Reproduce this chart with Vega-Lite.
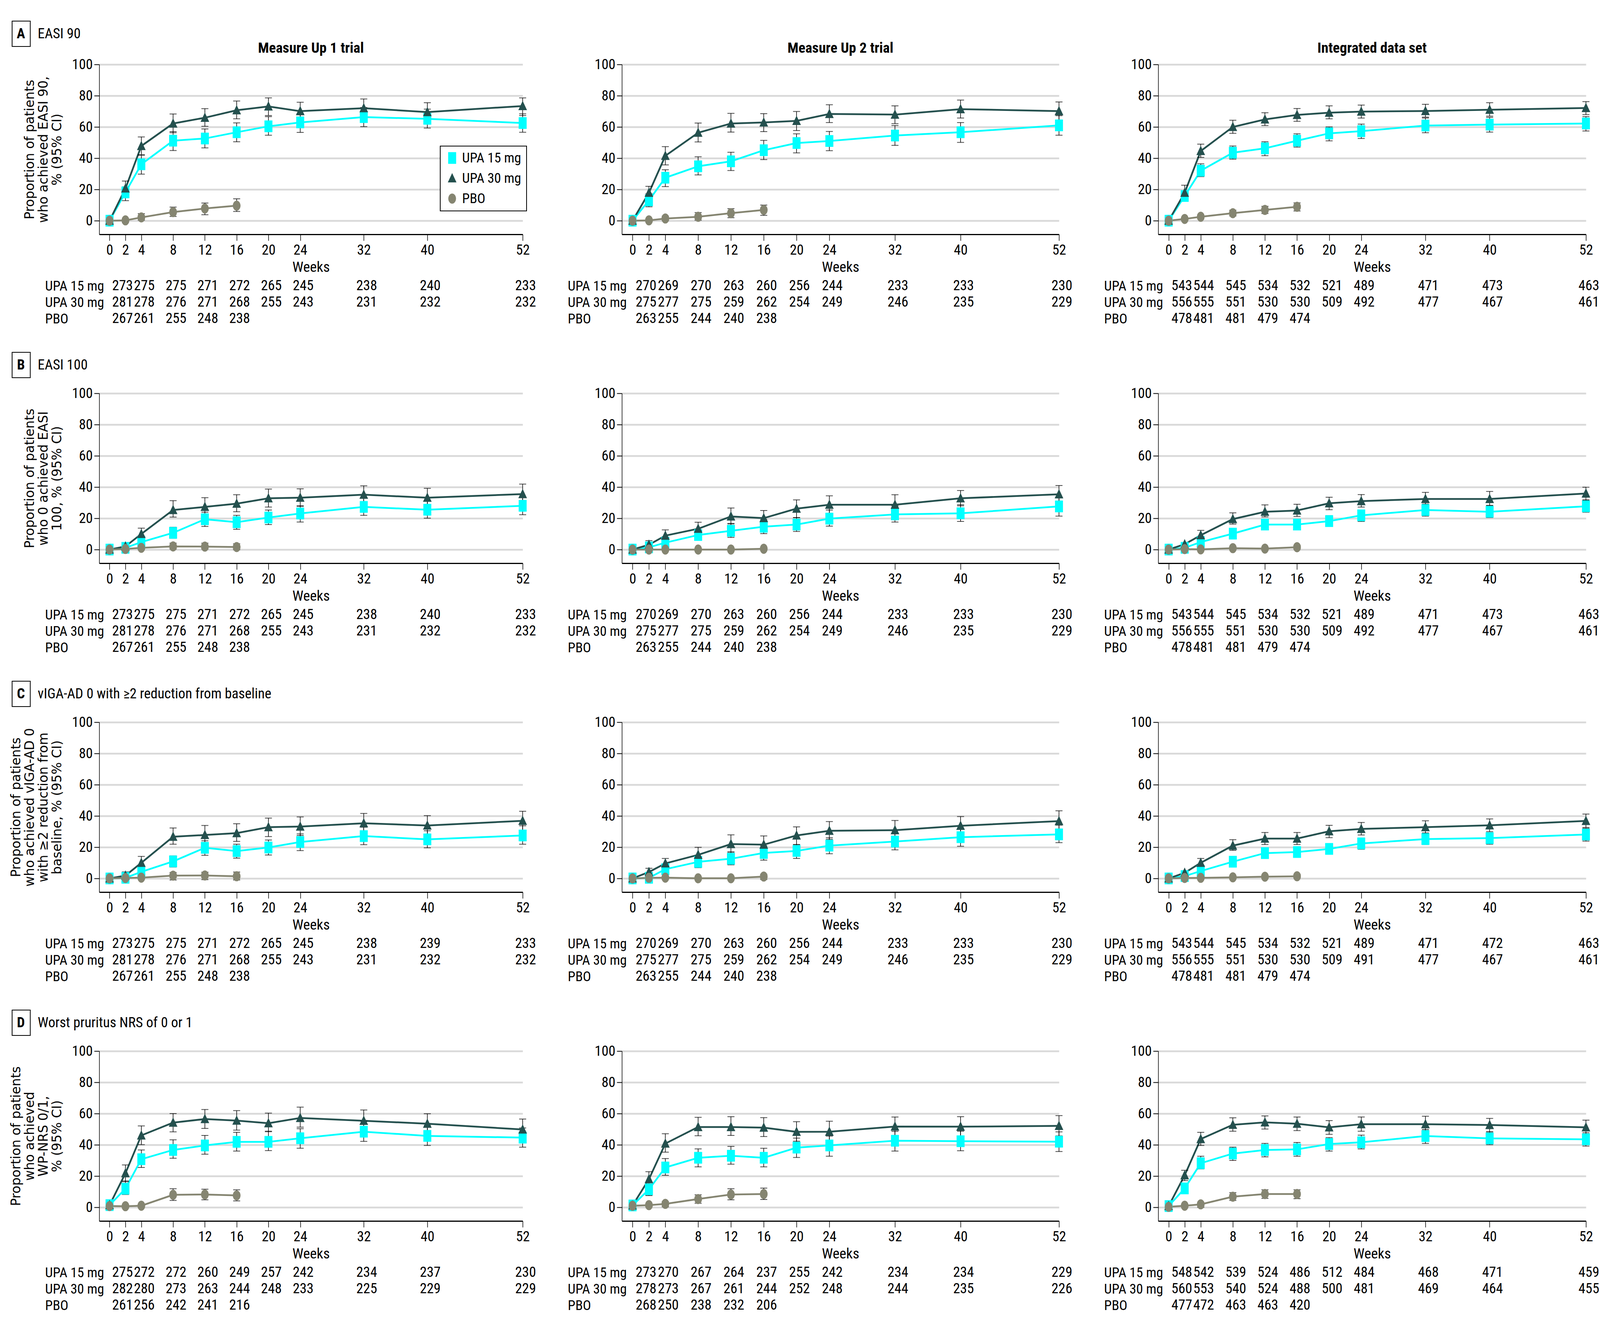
{
"$schema":"https://vega.github.io/schema/vega-lite/v6.json",
"background":"white",
"padding":{"left":25,"top":50,"right":0,"bottom":0},
"spacing":61,
"resolve":{"legend":{"color":"independent","shape":"independent"},"scale":{"color":"independent","shape":"independent"}},
"datasets":{
"A1":[
{"week":0,"group":"UPA 15 mg","pct":0},{"week":2,"group":"UPA 15 mg","pct":18.1,"lo":12.8,"hi":21.6},{"week":4,"group":"UPA 15 mg","pct":36.1,"lo":29.8,"hi":41.9},{"week":8,"group":"UPA 15 mg","pct":51.2,"lo":44.9,"hi":57.0},{"week":12,"group":"UPA 15 mg","pct":52.6,"lo":46.6,"hi":58.7},{"week":16,"group":"UPA 15 mg","pct":56.6,"lo":50.5,"hi":62.6},{"week":20,"group":"UPA 15 mg","pct":60.4,"lo":54.7,"hi":66.6},{"week":24,"group":"UPA 15 mg","pct":62.9,"lo":56.5,"hi":68.7},{"week":32,"group":"UPA 15 mg","pct":66.3,"lo":60.2,"hi":72.4},{"week":40,"group":"UPA 15 mg","pct":65.2,"lo":59.3,"hi":71.4},{"week":52,"group":"UPA 15 mg","pct":62.5,"lo":56.6,"hi":68.4},
{"week":0,"group":"UPA 30 mg","pct":0},{"week":2,"group":"UPA 30 mg","pct":20.6,"lo":16.1,"hi":25.4},{"week":4,"group":"UPA 30 mg","pct":47.8,"lo":42.2,"hi":53.6},{"week":8,"group":"UPA 30 mg","pct":62.2,"lo":56.3,"hi":68.3},{"week":12,"group":"UPA 30 mg","pct":65.9,"lo":60.4,"hi":71.7},{"week":16,"group":"UPA 30 mg","pct":70.7,"lo":65.2,"hi":76.6},{"week":20,"group":"UPA 30 mg","pct":73.1,"lo":67.3,"hi":78.6},{"week":24,"group":"UPA 30 mg","pct":70.1,"lo":64.6,"hi":75.8},{"week":32,"group":"UPA 30 mg","pct":72.0,"lo":66.3,"hi":77.9},{"week":40,"group":"UPA 30 mg","pct":69.5,"lo":63.9,"hi":75.5},{"week":52,"group":"UPA 30 mg","pct":73.4,"lo":67.3,"hi":78.6},
{"week":0,"group":"PBO","pct":0},{"week":2,"group":"PBO","pct":0.2,"lo":-1.2,"hi":1.4},{"week":4,"group":"PBO","pct":2.1,"lo":0.3,"hi":4.5},{"week":8,"group":"PBO","pct":5.5,"lo":2.7,"hi":8.7},{"week":12,"group":"PBO","pct":7.8,"lo":3.8,"hi":11.3},{"week":16,"group":"PBO","pct":9.6,"lo":5.9,"hi":14.0}],
"A2":[
{"week":0,"group":"UPA 15 mg","pct":0},{"week":2,"group":"UPA 15 mg","pct":13.0,"lo":8.9,"hi":17.2},{"week":4,"group":"UPA 15 mg","pct":27.5,"lo":21.8,"hi":32.6},{"week":8,"group":"UPA 15 mg","pct":34.8,"lo":29.3,"hi":40.9},{"week":12,"group":"UPA 15 mg","pct":38.0,"lo":32.1,"hi":43.8},{"week":16,"group":"UPA 15 mg","pct":45.1,"lo":39.1,"hi":51.4},{"week":20,"group":"UPA 15 mg","pct":49.7,"lo":43.4,"hi":55.6},{"week":24,"group":"UPA 15 mg","pct":51.0,"lo":44.8,"hi":57.1},{"week":32,"group":"UPA 15 mg","pct":54.5,"lo":48.2,"hi":60.9},{"week":40,"group":"UPA 15 mg","pct":56.6,"lo":50.1,"hi":62.8},{"week":52,"group":"UPA 15 mg","pct":61.0,"lo":54.7,"hi":67.2},
{"week":0,"group":"UPA 30 mg","pct":0},{"week":2,"group":"UPA 30 mg","pct":17.9,"lo":13.0,"hi":22.0},{"week":4,"group":"UPA 30 mg","pct":41.5,"lo":35.7,"hi":47.4},{"week":8,"group":"UPA 30 mg","pct":56.3,"lo":50.4,"hi":62.5},{"week":12,"group":"UPA 30 mg","pct":62.2,"lo":56.7,"hi":68.7},{"week":16,"group":"UPA 30 mg","pct":62.9,"lo":57.0,"hi":68.5},{"week":20,"group":"UPA 30 mg","pct":63.9,"lo":57.7,"hi":69.9},{"week":24,"group":"UPA 30 mg","pct":68.3,"lo":62.8,"hi":74.2},{"week":32,"group":"UPA 30 mg","pct":67.9,"lo":62.1,"hi":73.5},{"week":40,"group":"UPA 30 mg","pct":71.4,"lo":65.7,"hi":77.2},{"week":52,"group":"UPA 30 mg","pct":70.1,"lo":64.1,"hi":76.0},
{"week":0,"group":"PBO","pct":0},{"week":2,"group":"PBO","pct":0.2,"lo":-0.8,"hi":1.2},{"week":4,"group":"PBO","pct":1.4,"lo":0,"hi":2.9},{"week":8,"group":"PBO","pct":2.5,"lo":0.3,"hi":5.2},{"week":12,"group":"PBO","pct":4.8,"lo":1.9,"hi":7.7},{"week":16,"group":"PBO","pct":6.9,"lo":3.4,"hi":10.0}],
"A3":[
{"week":0,"group":"UPA 15 mg","pct":0},{"week":2,"group":"UPA 15 mg","pct":15.8,"lo":12.6,"hi":18.8},{"week":4,"group":"UPA 15 mg","pct":32.0,"lo":28.2,"hi":36.4},{"week":8,"group":"UPA 15 mg","pct":43.5,"lo":39.4,"hi":47.8},{"week":12,"group":"UPA 15 mg","pct":46.3,"lo":41.6,"hi":50.5},{"week":16,"group":"UPA 15 mg","pct":51.2,"lo":47.1,"hi":55.6},{"week":20,"group":"UPA 15 mg","pct":55.9,"lo":51.1,"hi":60.0},{"week":24,"group":"UPA 15 mg","pct":57.3,"lo":52.6,"hi":61.8},{"week":32,"group":"UPA 15 mg","pct":60.9,"lo":56.3,"hi":65.7},{"week":40,"group":"UPA 15 mg","pct":61.5,"lo":56.7,"hi":66.1},{"week":52,"group":"UPA 15 mg","pct":62.2,"lo":57.4,"hi":66.6},
{"week":0,"group":"UPA 30 mg","pct":0},{"week":2,"group":"UPA 30 mg","pct":17.9,"lo":13.7,"hi":22.7},{"week":4,"group":"UPA 30 mg","pct":44.6,"lo":40.5,"hi":49.0},{"week":8,"group":"UPA 30 mg","pct":60.0,"lo":55.9,"hi":64.3},{"week":12,"group":"UPA 30 mg","pct":64.8,"lo":60.9,"hi":69.1},{"week":16,"group":"UPA 30 mg","pct":67.7,"lo":63.6,"hi":71.8},{"week":20,"group":"UPA 30 mg","pct":69.1,"lo":65.2,"hi":73.5},{"week":24,"group":"UPA 30 mg","pct":69.8,"lo":65.7,"hi":74.0},{"week":32,"group":"UPA 30 mg","pct":70.2,"lo":66.3,"hi":74.5},{"week":40,"group":"UPA 30 mg","pct":71.0,"lo":66.9,"hi":75.5},{"week":52,"group":"UPA 30 mg","pct":72.1,"lo":67.9,"hi":76.2},
{"week":0,"group":"PBO","pct":0},{"week":2,"group":"PBO","pct":1.1,"lo":0.2,"hi":2.0},{"week":4,"group":"PBO","pct":2.5,"lo":1.2,"hi":3.8},{"week":8,"group":"PBO","pct":4.8,"lo":3.0,"hi":6.7},{"week":12,"group":"PBO","pct":6.9,"lo":4.6,"hi":9.2},{"week":16,"group":"PBO","pct":8.9,"lo":6.2,"hi":11.4}],
"B1":[
{"week":0,"group":"UPA 15 mg","pct":0},{"week":2,"group":"UPA 15 mg","pct":1.1,"lo":0,"hi":2.5},{"week":4,"group":"UPA 15 mg","pct":4.8,"lo":2.7,"hi":6.8},{"week":8,"group":"UPA 15 mg","pct":10.7,"lo":7.2,"hi":14.3},{"week":12,"group":"UPA 15 mg","pct":19.4,"lo":14.8,"hi":23.9},{"week":16,"group":"UPA 15 mg","pct":17.5,"lo":13.0,"hi":21.9},{"week":20,"group":"UPA 15 mg","pct":20.5,"lo":16.0,"hi":25.3},{"week":24,"group":"UPA 15 mg","pct":23.1,"lo":17.6,"hi":28.0},{"week":32,"group":"UPA 15 mg","pct":27.3,"lo":21.9,"hi":32.8},{"week":40,"group":"UPA 15 mg","pct":25.5,"lo":20.1,"hi":31.0},{"week":52,"group":"UPA 15 mg","pct":28.0,"lo":22.3,"hi":33.5},
{"week":0,"group":"UPA 30 mg","pct":0},{"week":2,"group":"UPA 30 mg","pct":2.0,"lo":0.7,"hi":4.1},{"week":4,"group":"UPA 30 mg","pct":10.0,"lo":5.9,"hi":13.7},{"week":8,"group":"UPA 30 mg","pct":25.3,"lo":20.8,"hi":31.3},{"week":12,"group":"UPA 30 mg","pct":27.3,"lo":21.9,"hi":33.2},{"week":16,"group":"UPA 30 mg","pct":29.4,"lo":24.2,"hi":35.1},{"week":20,"group":"UPA 30 mg","pct":32.8,"lo":27.2,"hi":38.7},{"week":24,"group":"UPA 30 mg","pct":33.2,"lo":27.7,"hi":38.9},{"week":32,"group":"UPA 30 mg","pct":35.1,"lo":29.4,"hi":40.8},{"week":40,"group":"UPA 30 mg","pct":33.2,"lo":27.3,"hi":39.2},{"week":52,"group":"UPA 30 mg","pct":35.5,"lo":29.6,"hi":41.9},
{"week":0,"group":"PBO","pct":0},{"week":2,"group":"PBO","pct":0.4},{"week":4,"group":"PBO","pct":1.1,"lo":0,"hi":2.5},{"week":8,"group":"PBO","pct":2.0,"lo":0.3,"hi":4.1},{"week":12,"group":"PBO","pct":1.9,"lo":0.3,"hi":4.1},{"week":16,"group":"PBO","pct":1.6,"lo":-0.1,"hi":3.7}],
"B2":[
{"week":0,"group":"UPA 15 mg","pct":0},{"week":2,"group":"UPA 15 mg","pct":1.4,"lo":0.5,"hi":2.3},{"week":4,"group":"UPA 15 mg","pct":4.4,"lo":1.6,"hi":5.9},{"week":8,"group":"UPA 15 mg","pct":9.3,"lo":6.1,"hi":12.7},{"week":12,"group":"UPA 15 mg","pct":12.0,"lo":7.8,"hi":16.7},{"week":16,"group":"UPA 15 mg","pct":14.6,"lo":10.2,"hi":19.1},{"week":20,"group":"UPA 15 mg","pct":16.0,"lo":11.6,"hi":20.5},{"week":24,"group":"UPA 15 mg","pct":19.8,"lo":15.0,"hi":25.3},{"week":32,"group":"UPA 15 mg","pct":22.5,"lo":17.6,"hi":28.0},{"week":40,"group":"UPA 15 mg","pct":23.2,"lo":18.0,"hi":28.7},{"week":52,"group":"UPA 15 mg","pct":27.6,"lo":21.4,"hi":33.2},
{"week":0,"group":"UPA 30 mg","pct":0},{"week":2,"group":"UPA 30 mg","pct":3.1,"lo":1.0,"hi":5.7},{"week":4,"group":"UPA 30 mg","pct":8.9,"lo":5.1,"hi":12.6},{"week":8,"group":"UPA 30 mg","pct":13.3,"lo":9.2,"hi":17.5},{"week":12,"group":"UPA 30 mg","pct":21.2,"lo":16.4,"hi":26.6},{"week":16,"group":"UPA 30 mg","pct":20.1,"lo":15.2,"hi":25.0},{"week":20,"group":"UPA 30 mg","pct":26.2,"lo":20.4,"hi":31.8},{"week":24,"group":"UPA 30 mg","pct":28.7,"lo":23.2,"hi":34.4},{"week":32,"group":"UPA 30 mg","pct":28.7,"lo":23.9,"hi":35.1},{"week":40,"group":"UPA 30 mg","pct":32.8,"lo":28.0,"hi":37.8},{"week":52,"group":"UPA 30 mg","pct":35.4,"lo":29.4,"hi":41.0},
{"week":0,"group":"PBO","pct":0},{"week":2,"group":"PBO","pct":0},{"week":4,"group":"PBO","pct":0},{"week":8,"group":"PBO","pct":0},{"week":12,"group":"PBO","pct":0},{"week":16,"group":"PBO","pct":0.5}],
"B3":[
{"week":0,"group":"UPA 15 mg","pct":0},{"week":2,"group":"UPA 15 mg","pct":1.1,"lo":0.2,"hi":2.0},{"week":4,"group":"UPA 15 mg","pct":4.8,"lo":2.7,"hi":6.4},{"week":8,"group":"UPA 15 mg","pct":10.2,"lo":7.5,"hi":12.7},{"week":12,"group":"UPA 15 mg","pct":16.0,"lo":12.7,"hi":19.0},{"week":16,"group":"UPA 15 mg","pct":16.0,"lo":13.0,"hi":19.4},{"week":20,"group":"UPA 15 mg","pct":18.2,"lo":15.0,"hi":21.7},{"week":24,"group":"UPA 15 mg","pct":21.9,"lo":18.0,"hi":25.0},{"week":32,"group":"UPA 15 mg","pct":25.3,"lo":21.4,"hi":29.1},{"week":40,"group":"UPA 15 mg","pct":24.2,"lo":20.5,"hi":28.0},{"week":52,"group":"UPA 15 mg","pct":27.7,"lo":23.9,"hi":31.7},
{"week":0,"group":"UPA 30 mg","pct":0},{"week":2,"group":"UPA 30 mg","pct":3.4,"lo":2.0,"hi":4.5},{"week":4,"group":"UPA 30 mg","pct":9.2,"lo":6.1,"hi":12.3},{"week":8,"group":"UPA 30 mg","pct":19.5,"lo":16.3,"hi":23.5},{"week":12,"group":"UPA 30 mg","pct":24.2,"lo":20.9,"hi":28.6},{"week":16,"group":"UPA 30 mg","pct":25.0,"lo":21.2,"hi":29.0},{"week":20,"group":"UPA 30 mg","pct":29.6,"lo":25.5,"hi":33.5},{"week":24,"group":"UPA 30 mg","pct":31.0,"lo":27.2,"hi":35.2},{"week":32,"group":"UPA 30 mg","pct":32.4,"lo":28.3,"hi":36.6},{"week":40,"group":"UPA 30 mg","pct":32.4,"lo":28.3,"hi":37.2},{"week":52,"group":"UPA 30 mg","pct":35.9,"lo":31.7,"hi":39.9},
{"week":0,"group":"PBO","pct":0},{"week":2,"group":"PBO","pct":0.3},{"week":4,"group":"PBO","pct":0.1},{"week":8,"group":"PBO","pct":0.9,"lo":0,"hi":1.8},{"week":12,"group":"PBO","pct":0.6,"lo":0,"hi":1.4},{"week":16,"group":"PBO","pct":1.5,"lo":0.3,"hi":2.7}],
"C1":[
{"week":0,"group":"UPA 15 mg","pct":0},{"week":2,"group":"UPA 15 mg","pct":0.4,"lo":0,"hi":1.5},{"week":4,"group":"UPA 15 mg","pct":4.2,"lo":1.8,"hi":6.6},{"week":8,"group":"UPA 15 mg","pct":10.9,"lo":7.3,"hi":14.4},{"week":12,"group":"UPA 15 mg","pct":19.6,"lo":14.8,"hi":24.1},{"week":16,"group":"UPA 15 mg","pct":17.5,"lo":13.0,"hi":21.9},{"week":20,"group":"UPA 15 mg","pct":19.8,"lo":15.0,"hi":24.6},{"week":24,"group":"UPA 15 mg","pct":23.3,"lo":17.8,"hi":28.5},{"week":32,"group":"UPA 15 mg","pct":27.1,"lo":21.6,"hi":32.8},{"week":40,"group":"UPA 15 mg","pct":25.0,"lo":19.6,"hi":30.5},{"week":52,"group":"UPA 15 mg","pct":27.5,"lo":21.9,"hi":33.7},
{"week":0,"group":"UPA 30 mg","pct":0},{"week":2,"group":"UPA 30 mg","pct":1.8,"lo":0,"hi":4.2},{"week":4,"group":"UPA 30 mg","pct":10.0,"lo":6.8,"hi":14.1},{"week":8,"group":"UPA 30 mg","pct":26.7,"lo":21.9,"hi":32.3},{"week":12,"group":"UPA 30 mg","pct":27.8,"lo":22.7,"hi":33.9},{"week":16,"group":"UPA 30 mg","pct":29.0,"lo":23.7,"hi":35.0},{"week":20,"group":"UPA 30 mg","pct":32.8,"lo":26.8,"hi":38.6},{"week":24,"group":"UPA 30 mg","pct":33.2,"lo":27.5,"hi":39.4},{"week":32,"group":"UPA 30 mg","pct":35.3,"lo":29.0,"hi":41.6},{"week":40,"group":"UPA 30 mg","pct":33.9,"lo":28.0,"hi":40.2},{"week":52,"group":"UPA 30 mg","pct":36.9,"lo":30.9,"hi":43.0},
{"week":0,"group":"PBO","pct":0},{"week":2,"group":"PBO","pct":0.3},{"week":4,"group":"PBO","pct":0.5,"lo":0,"hi":1.5},{"week":8,"group":"PBO","pct":1.8,"lo":-1.0,"hi":3.8},{"week":12,"group":"PBO","pct":1.9,"lo":-0.8,"hi":4.0},{"week":16,"group":"PBO","pct":1.4,"lo":-1.0,"hi":4.1}],
"C2":[
{"week":0,"group":"UPA 15 mg","pct":0},{"week":2,"group":"UPA 15 mg","pct":0.4},{"week":4,"group":"UPA 15 mg","pct":5.9,"lo":3.2,"hi":7.8},{"week":8,"group":"UPA 15 mg","pct":10.6,"lo":6.9,"hi":13.7},{"week":12,"group":"UPA 15 mg","pct":12.6,"lo":8.7,"hi":16.9},{"week":16,"group":"UPA 15 mg","pct":16.3,"lo":11.7,"hi":20.9},{"week":20,"group":"UPA 15 mg","pct":17.6,"lo":12.8,"hi":21.7},{"week":24,"group":"UPA 15 mg","pct":21.0,"lo":15.8,"hi":26.1},{"week":32,"group":"UPA 15 mg","pct":23.6,"lo":18.3,"hi":29.3},{"week":40,"group":"UPA 15 mg","pct":26.4,"lo":20.6,"hi":31.9},{"week":52,"group":"UPA 15 mg","pct":28.2,"lo":22.9,"hi":34.1},
{"week":0,"group":"UPA 30 mg","pct":0},{"week":2,"group":"UPA 30 mg","pct":4.1,"lo":1.4,"hi":6.5},{"week":4,"group":"UPA 30 mg","pct":9.6,"lo":6.2,"hi":12.8},{"week":8,"group":"UPA 30 mg","pct":15.1,"lo":11.0,"hi":19.9},{"week":12,"group":"UPA 30 mg","pct":22.0,"lo":16.9,"hi":27.9},{"week":16,"group":"UPA 30 mg","pct":21.6,"lo":15.8,"hi":27.2},{"week":20,"group":"UPA 30 mg","pct":27.5,"lo":21.6,"hi":33.0},{"week":24,"group":"UPA 30 mg","pct":30.5,"lo":25.1,"hi":36.4},{"week":32,"group":"UPA 30 mg","pct":30.9,"lo":25.1,"hi":37.1},{"week":40,"group":"UPA 30 mg","pct":33.7,"lo":27.7,"hi":39.6},{"week":52,"group":"UPA 30 mg","pct":36.7,"lo":30.9,"hi":43.3},
{"week":0,"group":"PBO","pct":0},{"week":2,"group":"PBO","pct":0.4},{"week":4,"group":"PBO","pct":0.5},{"week":8,"group":"PBO","pct":0.1},{"week":12,"group":"PBO","pct":0.1},{"week":16,"group":"PBO","pct":1.2,"lo":-0.7,"hi":2.7}],
"C3":[
{"week":0,"group":"UPA 15 mg","pct":0},{"week":2,"group":"UPA 15 mg","pct":1.5,"lo":0.1,"hi":3.2},{"week":4,"group":"UPA 15 mg","pct":4.7,"lo":2.9,"hi":6.3},{"week":8,"group":"UPA 15 mg","pct":10.7,"lo":8.0,"hi":13.4},{"week":12,"group":"UPA 15 mg","pct":16.2,"lo":12.8,"hi":19.3},{"week":16,"group":"UPA 15 mg","pct":16.9,"lo":13.6,"hi":20.0},{"week":20,"group":"UPA 15 mg","pct":18.9,"lo":15.6,"hi":22.1},{"week":24,"group":"UPA 15 mg","pct":22.4,"lo":18.7,"hi":25.8},{"week":32,"group":"UPA 15 mg","pct":25.2,"lo":21.7,"hi":29.1},{"week":40,"group":"UPA 15 mg","pct":25.8,"lo":21.9,"hi":28.9},{"week":52,"group":"UPA 15 mg","pct":28.1,"lo":23.9,"hi":32.1},
{"week":0,"group":"UPA 30 mg","pct":0},{"week":2,"group":"UPA 30 mg","pct":3.6,"lo":1.5,"hi":4.9},{"week":4,"group":"UPA 30 mg","pct":10.0,"lo":7.3,"hi":12.8},{"week":8,"group":"UPA 30 mg","pct":21.0,"lo":18.0,"hi":24.8},{"week":12,"group":"UPA 30 mg","pct":25.5,"lo":21.7,"hi":29.4},{"week":16,"group":"UPA 30 mg","pct":25.5,"lo":21.7,"hi":29.4},{"week":20,"group":"UPA 30 mg","pct":30.2,"lo":26.1,"hi":34.0},{"week":24,"group":"UPA 30 mg","pct":31.7,"lo":27.8,"hi":35.8},{"week":32,"group":"UPA 30 mg","pct":32.8,"lo":28.8,"hi":36.9},{"week":40,"group":"UPA 30 mg","pct":34.0,"lo":29.9,"hi":38.1},{"week":52,"group":"UPA 30 mg","pct":36.8,"lo":32.6,"hi":41.2},
{"week":0,"group":"PBO","pct":0},{"week":2,"group":"PBO","pct":0.3},{"week":4,"group":"PBO","pct":0.4},{"week":8,"group":"PBO","pct":0.7,"lo":0,"hi":1.5},{"week":12,"group":"PBO","pct":1.1,"lo":0.2,"hi":2.2},{"week":16,"group":"PBO","pct":1.4,"lo":0.3,"hi":2.6}],
"D1":[
{"week":0,"group":"UPA 15 mg","pct":1.4},{"week":2,"group":"UPA 15 mg","pct":11.9,"lo":8.2,"hi":16.9},{"week":4,"group":"UPA 15 mg","pct":30.8,"lo":25.5,"hi":36.7},{"week":8,"group":"UPA 15 mg","pct":36.7,"lo":31.4,"hi":43.2},{"week":12,"group":"UPA 15 mg","pct":39.6,"lo":34.0,"hi":46.0},{"week":16,"group":"UPA 15 mg","pct":41.9,"lo":36.0,"hi":48.0},{"week":20,"group":"UPA 15 mg","pct":41.9,"lo":36.3,"hi":48.7},{"week":24,"group":"UPA 15 mg","pct":44.2,"lo":37.8,"hi":50.3},{"week":32,"group":"UPA 15 mg","pct":48.4,"lo":42.2,"hi":55.1},{"week":40,"group":"UPA 15 mg","pct":45.7,"lo":39.6,"hi":52.4},{"week":52,"group":"UPA 15 mg","pct":44.6,"lo":38.5,"hi":50.8},
{"week":0,"group":"UPA 30 mg","pct":1.4},{"week":2,"group":"UPA 30 mg","pct":21.8,"lo":16.4,"hi":27.1},{"week":4,"group":"UPA 30 mg","pct":46.0,"lo":40.1,"hi":52.1},{"week":8,"group":"UPA 30 mg","pct":54.2,"lo":48.3,"hi":60.0},{"week":12,"group":"UPA 30 mg","pct":56.5,"lo":50.5,"hi":62.6},{"week":16,"group":"UPA 30 mg","pct":55.5,"lo":49.4,"hi":61.9},{"week":20,"group":"UPA 30 mg","pct":53.8,"lo":48.4,"hi":60.3},{"week":24,"group":"UPA 30 mg","pct":57.2,"lo":51.3,"hi":64.1},{"week":32,"group":"UPA 30 mg","pct":55.4,"lo":49.4,"hi":62.3},{"week":40,"group":"UPA 30 mg","pct":53.5,"lo":47.6,"hi":59.9},{"week":52,"group":"UPA 30 mg","pct":49.8,"lo":43.9,"hi":56.5},
{"week":0,"group":"PBO","pct":0.8},{"week":2,"group":"PBO","pct":0.7},{"week":4,"group":"PBO","pct":1.0},{"week":8,"group":"PBO","pct":8.0,"lo":4.4,"hi":11.9},{"week":12,"group":"PBO","pct":8.2,"lo":4.8,"hi":11.6},{"week":16,"group":"PBO","pct":7.6,"lo":4.1,"hi":11.2}],
"D2":[
{"week":0,"group":"UPA 15 mg","pct":1.2},{"week":2,"group":"UPA 15 mg","pct":11.5,"lo":7.5,"hi":14.9},{"week":4,"group":"UPA 15 mg","pct":25.5,"lo":20.5,"hi":31.2},{"week":8,"group":"UPA 15 mg","pct":31.7,"lo":25.9,"hi":37.4},{"week":12,"group":"UPA 15 mg","pct":33.0,"lo":27.6,"hi":39.0},{"week":16,"group":"UPA 15 mg","pct":31.7,"lo":25.9,"hi":37.8},{"week":20,"group":"UPA 15 mg","pct":38.2,"lo":31.9,"hi":44.3},{"week":24,"group":"UPA 15 mg","pct":39.6,"lo":32.7,"hi":45.6},{"week":32,"group":"UPA 15 mg","pct":42.6,"lo":36.0,"hi":48.6},{"week":40,"group":"UPA 15 mg","pct":42.3,"lo":36.2,"hi":48.7},{"week":52,"group":"UPA 15 mg","pct":42.0,"lo":35.7,"hi":48.3},
{"week":0,"group":"UPA 30 mg","pct":1.2},{"week":2,"group":"UPA 30 mg","pct":18.0,"lo":13.6,"hi":22.8},{"week":4,"group":"UPA 30 mg","pct":40.8,"lo":35.3,"hi":47.1},{"week":8,"group":"UPA 30 mg","pct":51.4,"lo":45.8,"hi":57.6},{"week":12,"group":"UPA 30 mg","pct":51.4,"lo":46.0,"hi":58.0},{"week":16,"group":"UPA 30 mg","pct":51.0,"lo":45.3,"hi":57.4},{"week":20,"group":"UPA 30 mg","pct":48.3,"lo":42.3,"hi":54.8},{"week":24,"group":"UPA 30 mg","pct":48.4,"lo":42.8,"hi":55.1},{"week":32,"group":"UPA 30 mg","pct":51.7,"lo":45.6,"hi":57.8},{"week":40,"group":"UPA 30 mg","pct":51.6,"lo":45.2,"hi":58.0},{"week":52,"group":"UPA 30 mg","pct":52.1,"lo":45.7,"hi":58.7},
{"week":0,"group":"PBO","pct":1.0},{"week":2,"group":"PBO","pct":1.4},{"week":4,"group":"PBO","pct":2.2,"lo":0.3,"hi":3.7},{"week":8,"group":"PBO","pct":5.3,"lo":2.6,"hi":8.0},{"week":12,"group":"PBO","pct":8.2,"lo":4.8,"hi":11.9},{"week":16,"group":"PBO","pct":8.5,"lo":5.0,"hi":12.3}],
"D3":[
{"week":0,"group":"UPA 15 mg","pct":0.8},{"week":2,"group":"UPA 15 mg","pct":12.1,"lo":8.9,"hi":14.2},{"week":4,"group":"UPA 15 mg","pct":28.2,"lo":24.6,"hi":32.7},{"week":8,"group":"UPA 15 mg","pct":34.4,"lo":30.0,"hi":38.5},{"week":12,"group":"UPA 15 mg","pct":36.7,"lo":32.3,"hi":40.9},{"week":16,"group":"UPA 15 mg","pct":37.1,"lo":32.7,"hi":41.5},{"week":20,"group":"UPA 15 mg","pct":40.5,"lo":36.0,"hi":44.6},{"week":24,"group":"UPA 15 mg","pct":41.6,"lo":37.4,"hi":46.2},{"week":32,"group":"UPA 15 mg","pct":45.6,"lo":40.9,"hi":49.8},{"week":40,"group":"UPA 15 mg","pct":44.1,"lo":40.1,"hi":48.3},{"week":52,"group":"UPA 15 mg","pct":43.5,"lo":39.2,"hi":47.7},
{"week":0,"group":"UPA 30 mg","pct":0.8},{"week":2,"group":"UPA 30 mg","pct":20.5,"lo":17.1,"hi":23.7},{"week":4,"group":"UPA 30 mg","pct":43.7,"lo":39.6,"hi":48.0},{"week":8,"group":"UPA 30 mg","pct":52.8,"lo":48.7,"hi":57.3},{"week":12,"group":"UPA 30 mg","pct":54.4,"lo":50.1,"hi":58.5},{"week":16,"group":"UPA 30 mg","pct":53.5,"lo":49.1,"hi":57.8},{"week":20,"group":"UPA 30 mg","pct":51.2,"lo":46.7,"hi":55.5},{"week":24,"group":"UPA 30 mg","pct":53.2,"lo":48.7,"hi":57.8},{"week":32,"group":"UPA 30 mg","pct":53.2,"lo":49.1,"hi":58.3},{"week":40,"group":"UPA 30 mg","pct":52.7,"lo":48.3,"hi":56.9},{"week":52,"group":"UPA 30 mg","pct":51.2,"lo":46.7,"hi":55.8},
{"week":0,"group":"PBO","pct":0.3},{"week":2,"group":"PBO","pct":1.0},{"week":4,"group":"PBO","pct":1.9,"lo":0,"hi":3.3},{"week":8,"group":"PBO","pct":6.8,"lo":4.4,"hi":9.4},{"week":12,"group":"PBO","pct":8.5,"lo":5.7,"hi":11.2},{"week":16,"group":"PBO","pct":8.5,"lo":5.5,"hi":11.2}],
"nA1":[
{"week":2,"group":"UPA 15 mg","n":273},{"week":4,"group":"UPA 15 mg","n":275},{"week":8,"group":"UPA 15 mg","n":275},{"week":12,"group":"UPA 15 mg","n":271},{"week":16,"group":"UPA 15 mg","n":272},{"week":20,"group":"UPA 15 mg","n":265},{"week":24,"group":"UPA 15 mg","n":245},{"week":32,"group":"UPA 15 mg","n":238},{"week":40,"group":"UPA 15 mg","n":240},{"week":52,"group":"UPA 15 mg","n":233},
{"week":2,"group":"UPA 30 mg","n":281},{"week":4,"group":"UPA 30 mg","n":278},{"week":8,"group":"UPA 30 mg","n":276},{"week":12,"group":"UPA 30 mg","n":271},{"week":16,"group":"UPA 30 mg","n":268},{"week":20,"group":"UPA 30 mg","n":255},{"week":24,"group":"UPA 30 mg","n":243},{"week":32,"group":"UPA 30 mg","n":231},{"week":40,"group":"UPA 30 mg","n":232},{"week":52,"group":"UPA 30 mg","n":232},
{"week":2,"group":"PBO","n":267},{"week":4,"group":"PBO","n":261},{"week":8,"group":"PBO","n":255},{"week":12,"group":"PBO","n":248},{"week":16,"group":"PBO","n":238}],
"nA2":[
{"week":2,"group":"UPA 15 mg","n":270},{"week":4,"group":"UPA 15 mg","n":269},{"week":8,"group":"UPA 15 mg","n":270},{"week":12,"group":"UPA 15 mg","n":263},{"week":16,"group":"UPA 15 mg","n":260},{"week":20,"group":"UPA 15 mg","n":256},{"week":24,"group":"UPA 15 mg","n":244},{"week":32,"group":"UPA 15 mg","n":233},{"week":40,"group":"UPA 15 mg","n":233},{"week":52,"group":"UPA 15 mg","n":230},
{"week":2,"group":"UPA 30 mg","n":275},{"week":4,"group":"UPA 30 mg","n":277},{"week":8,"group":"UPA 30 mg","n":275},{"week":12,"group":"UPA 30 mg","n":259},{"week":16,"group":"UPA 30 mg","n":262},{"week":20,"group":"UPA 30 mg","n":254},{"week":24,"group":"UPA 30 mg","n":249},{"week":32,"group":"UPA 30 mg","n":246},{"week":40,"group":"UPA 30 mg","n":235},{"week":52,"group":"UPA 30 mg","n":229},
{"week":2,"group":"PBO","n":263},{"week":4,"group":"PBO","n":255},{"week":8,"group":"PBO","n":244},{"week":12,"group":"PBO","n":240},{"week":16,"group":"PBO","n":238}],
"nA3":[
{"week":2,"group":"UPA 15 mg","n":543},{"week":4,"group":"UPA 15 mg","n":544},{"week":8,"group":"UPA 15 mg","n":545},{"week":12,"group":"UPA 15 mg","n":534},{"week":16,"group":"UPA 15 mg","n":532},{"week":20,"group":"UPA 15 mg","n":521},{"week":24,"group":"UPA 15 mg","n":489},{"week":32,"group":"UPA 15 mg","n":471},{"week":40,"group":"UPA 15 mg","n":473},{"week":52,"group":"UPA 15 mg","n":463},
{"week":2,"group":"UPA 30 mg","n":556},{"week":4,"group":"UPA 30 mg","n":555},{"week":8,"group":"UPA 30 mg","n":551},{"week":12,"group":"UPA 30 mg","n":530},{"week":16,"group":"UPA 30 mg","n":530},{"week":20,"group":"UPA 30 mg","n":509},{"week":24,"group":"UPA 30 mg","n":492},{"week":32,"group":"UPA 30 mg","n":477},{"week":40,"group":"UPA 30 mg","n":467},{"week":52,"group":"UPA 30 mg","n":461},
{"week":2,"group":"PBO","n":478},{"week":4,"group":"PBO","n":481},{"week":8,"group":"PBO","n":481},{"week":12,"group":"PBO","n":479},{"week":16,"group":"PBO","n":474}],
"nC1":[
{"week":2,"group":"UPA 15 mg","n":273},{"week":4,"group":"UPA 15 mg","n":275},{"week":8,"group":"UPA 15 mg","n":275},{"week":12,"group":"UPA 15 mg","n":271},{"week":16,"group":"UPA 15 mg","n":272},{"week":20,"group":"UPA 15 mg","n":265},{"week":24,"group":"UPA 15 mg","n":245},{"week":32,"group":"UPA 15 mg","n":238},{"week":40,"group":"UPA 15 mg","n":239},{"week":52,"group":"UPA 15 mg","n":233},
{"week":2,"group":"UPA 30 mg","n":281},{"week":4,"group":"UPA 30 mg","n":278},{"week":8,"group":"UPA 30 mg","n":276},{"week":12,"group":"UPA 30 mg","n":271},{"week":16,"group":"UPA 30 mg","n":268},{"week":20,"group":"UPA 30 mg","n":255},{"week":24,"group":"UPA 30 mg","n":243},{"week":32,"group":"UPA 30 mg","n":231},{"week":40,"group":"UPA 30 mg","n":232},{"week":52,"group":"UPA 30 mg","n":232},
{"week":2,"group":"PBO","n":267},{"week":4,"group":"PBO","n":261},{"week":8,"group":"PBO","n":255},{"week":12,"group":"PBO","n":248},{"week":16,"group":"PBO","n":238}],
"nC3":[
{"week":2,"group":"UPA 15 mg","n":543},{"week":4,"group":"UPA 15 mg","n":544},{"week":8,"group":"UPA 15 mg","n":545},{"week":12,"group":"UPA 15 mg","n":534},{"week":16,"group":"UPA 15 mg","n":532},{"week":20,"group":"UPA 15 mg","n":521},{"week":24,"group":"UPA 15 mg","n":489},{"week":32,"group":"UPA 15 mg","n":471},{"week":40,"group":"UPA 15 mg","n":472},{"week":52,"group":"UPA 15 mg","n":463},
{"week":2,"group":"UPA 30 mg","n":556},{"week":4,"group":"UPA 30 mg","n":555},{"week":8,"group":"UPA 30 mg","n":551},{"week":12,"group":"UPA 30 mg","n":530},{"week":16,"group":"UPA 30 mg","n":530},{"week":20,"group":"UPA 30 mg","n":509},{"week":24,"group":"UPA 30 mg","n":491},{"week":32,"group":"UPA 30 mg","n":477},{"week":40,"group":"UPA 30 mg","n":467},{"week":52,"group":"UPA 30 mg","n":461},
{"week":2,"group":"PBO","n":478},{"week":4,"group":"PBO","n":481},{"week":8,"group":"PBO","n":481},{"week":12,"group":"PBO","n":479},{"week":16,"group":"PBO","n":474}],
"nD1":[
{"week":2,"group":"UPA 15 mg","n":275},{"week":4,"group":"UPA 15 mg","n":272},{"week":8,"group":"UPA 15 mg","n":272},{"week":12,"group":"UPA 15 mg","n":260},{"week":16,"group":"UPA 15 mg","n":249},{"week":20,"group":"UPA 15 mg","n":257},{"week":24,"group":"UPA 15 mg","n":242},{"week":32,"group":"UPA 15 mg","n":234},{"week":40,"group":"UPA 15 mg","n":237},{"week":52,"group":"UPA 15 mg","n":230},
{"week":2,"group":"UPA 30 mg","n":282},{"week":4,"group":"UPA 30 mg","n":280},{"week":8,"group":"UPA 30 mg","n":273},{"week":12,"group":"UPA 30 mg","n":263},{"week":16,"group":"UPA 30 mg","n":244},{"week":20,"group":"UPA 30 mg","n":248},{"week":24,"group":"UPA 30 mg","n":233},{"week":32,"group":"UPA 30 mg","n":225},{"week":40,"group":"UPA 30 mg","n":229},{"week":52,"group":"UPA 30 mg","n":229},
{"week":2,"group":"PBO","n":261},{"week":4,"group":"PBO","n":256},{"week":8,"group":"PBO","n":242},{"week":12,"group":"PBO","n":241},{"week":16,"group":"PBO","n":216}],
"nD2":[
{"week":2,"group":"UPA 15 mg","n":273},{"week":4,"group":"UPA 15 mg","n":270},{"week":8,"group":"UPA 15 mg","n":267},{"week":12,"group":"UPA 15 mg","n":264},{"week":16,"group":"UPA 15 mg","n":237},{"week":20,"group":"UPA 15 mg","n":255},{"week":24,"group":"UPA 15 mg","n":242},{"week":32,"group":"UPA 15 mg","n":234},{"week":40,"group":"UPA 15 mg","n":234},{"week":52,"group":"UPA 15 mg","n":229},
{"week":2,"group":"UPA 30 mg","n":278},{"week":4,"group":"UPA 30 mg","n":273},{"week":8,"group":"UPA 30 mg","n":267},{"week":12,"group":"UPA 30 mg","n":261},{"week":16,"group":"UPA 30 mg","n":244},{"week":20,"group":"UPA 30 mg","n":252},{"week":24,"group":"UPA 30 mg","n":248},{"week":32,"group":"UPA 30 mg","n":244},{"week":40,"group":"UPA 30 mg","n":235},{"week":52,"group":"UPA 30 mg","n":226},
{"week":2,"group":"PBO","n":268},{"week":4,"group":"PBO","n":250},{"week":8,"group":"PBO","n":238},{"week":12,"group":"PBO","n":232},{"week":16,"group":"PBO","n":206}],
"nD3":[
{"week":2,"group":"UPA 15 mg","n":548},{"week":4,"group":"UPA 15 mg","n":542},{"week":8,"group":"UPA 15 mg","n":539},{"week":12,"group":"UPA 15 mg","n":524},{"week":16,"group":"UPA 15 mg","n":486},{"week":20,"group":"UPA 15 mg","n":512},{"week":24,"group":"UPA 15 mg","n":484},{"week":32,"group":"UPA 15 mg","n":468},{"week":40,"group":"UPA 15 mg","n":471},{"week":52,"group":"UPA 15 mg","n":459},
{"week":2,"group":"UPA 30 mg","n":560},{"week":4,"group":"UPA 30 mg","n":553},{"week":8,"group":"UPA 30 mg","n":540},{"week":12,"group":"UPA 30 mg","n":524},{"week":16,"group":"UPA 30 mg","n":488},{"week":20,"group":"UPA 30 mg","n":500},{"week":24,"group":"UPA 30 mg","n":481},{"week":32,"group":"UPA 30 mg","n":469},{"week":40,"group":"UPA 30 mg","n":464},{"week":52,"group":"UPA 30 mg","n":455},
{"week":2,"group":"PBO","n":477},{"week":4,"group":"PBO","n":472},{"week":8,"group":"PBO","n":463},{"week":12,"group":"PBO","n":463},{"week":16,"group":"PBO","n":420}]
},
"vconcat":[
{"columns":1,"spacing":-18,"resolve":{"legend":{"color":"independent","shape":"independent"},"scale":{"color":"independent","shape":"independent"}},"concat":[
 {"width":1,"height":65,"data":{"values":[{"letter":"A","label":"EASI 90"}]},"layer":[
  {"mark":{"type":"point","shape":"M-4.47,-0.65H-3.54V0.65H-4.47Z","size":10000,"filled":false,"stroke":"black","strokeWidth":2,"opacity":1},"encoding":{}},
  {"mark":{"type":"text","fontWeight":"bold","dx":-201},"encoding":{"text":{"field":"letter"}}},
  {"mark":{"type":"text","align":"left","dx":-158},"encoding":{"text":{"field":"label"}}}]},
 {"spacing":80,"resolve":{"legend":{"color":"independent","shape":"independent"},"scale":{"color":"independent","shape":"independent"}},"hconcat":[
  {"spacing":9,"resolve":{"legend":{"color":"independent","shape":"independent"},"scale":{"color":"independent","shape":"independent"}},"vconcat":[
   {"width":1084,"height":435,"title":{"text":"Measure Up 1 trial"},"data":{"name":"A1"},
    "encoding":{"x":{"field":"week","type":"quantitative","scale":{"domain":[-1.3,52],"nice":false,"zero":false},"axis":{"values":[0,2,4,8,12,16,20,24,32,40,52],"title":"Weeks"}}},
    "layer":[
     {"mark":"line","encoding":{"y":{"field":"pct","type":"quantitative","scale":{"domain":[-8.75,100],"nice":false},"axis":{"values":[0,20,40,60,80,100],"title":["Proportion of patients","who achieved EASI 90,","% (95% CI)"]}},"stroke":{"field":"group","type":"nominal","scale":{"domain":["UPA 15 mg","UPA 30 mg","PBO"],"range":["#00FFFF","#24504E","#858571"]},"legend":null}}},
     {"mark":"rule","encoding":{"y":{"field":"lo","type":"quantitative","scale":{"domain":[-8.75,100],"nice":false}},"y2":{"field":"hi"}}},
     {"mark":{"type":"tick","orient":"horizontal","size":18},"encoding":{"y":{"field":"lo","type":"quantitative","scale":{"domain":[-8.75,100],"nice":false}}}},
     {"mark":{"type":"tick","orient":"horizontal","size":18},"encoding":{"y":{"field":"hi","type":"quantitative","scale":{"domain":[-8.75,100],"nice":false}}}},
     {"mark":"point","encoding":{"y":{"field":"pct","type":"quantitative","scale":{"domain":[-8.75,100],"nice":false}},
       "color":{"field":"group","type":"nominal","scale":{"domain":["UPA 15 mg","UPA 30 mg","PBO"],"range":["#00FFFF","#24504E","#858571"]},"legend":{"title":null,"orient":"none","legendX":873,"legendY":209}},
       "shape":{"field":"group","type":"nominal","scale":{"domain":["UPA 15 mg","UPA 30 mg","PBO"],"range":["M-0.68,-1H0.68V1H-0.68Z","M0,-0.9L0.74,0.7L-0.74,0.7Z","M-0.66,0A0.66,0.86,0,1,1,0.66,0A0.66,0.86,0,1,1,-0.66,0Z"]},"legend":{"title":null,"orient":"none","legendX":873,"legendY":209}}}}]},
   {"width":1084,"height":126,"data":{"name":"nA1"},
    "encoding":{"x":{"field":"week","type":"quantitative","scale":{"domain":[-1.3,52],"nice":false,"zero":false},"axis":null},"y":{"field":"group","type":"nominal","scale":{"domain":["UPA 15 mg","UPA 30 mg","PBO"]},"axis":{"title":null,"domain":false,"ticks":false,"tickSize":0,"grid":false,"labelAlign":"left","labelPadding":139,"labelLimit":0,"labelFontSize":35}},"text":{"field":"n","type":"nominal"}},
    "layer":[{"transform":[{"filter":"datum.week == 2"}],"mark":{"type":"text","dx":-7.5}},{"transform":[{"filter":"datum.week != 2"}],"mark":{"type":"text","dx":7.5}}]}]},
  {"spacing":9,"vconcat":[
   {"width":1119,"height":435,"title":{"text":"Measure Up 2 trial"},"data":{"name":"A2"},
    "encoding":{"x":{"field":"week","type":"quantitative","scale":{"domain":[-1.3,52],"nice":false,"zero":false},"axis":{"values":[0,2,4,8,12,16,20,24,32,40,52],"title":"Weeks"}}},
    "layer":[
     {"mark":"line","encoding":{"y":{"field":"pct","type":"quantitative","scale":{"domain":[-8.75,100],"nice":false},"axis":{"values":[0,20,40,60,80,100],"title":null}},"stroke":{"field":"group","type":"nominal","scale":{"domain":["UPA 15 mg","UPA 30 mg","PBO"],"range":["#00FFFF","#24504E","#858571"]},"legend":null}}},
     {"mark":"rule","encoding":{"y":{"field":"lo","type":"quantitative","scale":{"domain":[-8.75,100],"nice":false}},"y2":{"field":"hi"}}},
     {"mark":{"type":"tick","orient":"horizontal","size":18},"encoding":{"y":{"field":"lo","type":"quantitative","scale":{"domain":[-8.75,100],"nice":false}}}},
     {"mark":{"type":"tick","orient":"horizontal","size":18},"encoding":{"y":{"field":"hi","type":"quantitative","scale":{"domain":[-8.75,100],"nice":false}}}},
     {"mark":"point","encoding":{"y":{"field":"pct","type":"quantitative","scale":{"domain":[-8.75,100],"nice":false}},"color":{"field":"group","type":"nominal","scale":{"domain":["UPA 15 mg","UPA 30 mg","PBO"],"range":["#00FFFF","#24504E","#858571"]},"legend":null},"shape":{"field":"group","type":"nominal","scale":{"domain":["UPA 15 mg","UPA 30 mg","PBO"],"range":["M-0.68,-1H0.68V1H-0.68Z","M0,-0.9L0.74,0.7L-0.74,0.7Z","M-0.66,0A0.66,0.86,0,1,1,0.66,0A0.66,0.86,0,1,1,-0.66,0Z"]},"legend":null}}}]},
   {"width":1119,"height":126,"data":{"name":"nA2"},
    "encoding":{"x":{"field":"week","type":"quantitative","scale":{"domain":[-1.3,52],"nice":false,"zero":false},"axis":null},"y":{"field":"group","type":"nominal","scale":{"domain":["UPA 15 mg","UPA 30 mg","PBO"]},"axis":{"title":null,"domain":false,"ticks":false,"tickSize":0,"grid":false,"labelAlign":"left","labelPadding":139,"labelLimit":0,"labelFontSize":35}},"text":{"field":"n","type":"nominal"}},
    "layer":[{"transform":[{"filter":"datum.week == 2"}],"mark":{"type":"text","dx":-7.5}},{"transform":[{"filter":"datum.week != 2"}],"mark":{"type":"text","dx":7.5}}]}]},
  {"spacing":9,"vconcat":[
   {"width":1095,"height":435,"title":{"text":"Integrated data set"},"data":{"name":"A3"},
    "encoding":{"x":{"field":"week","type":"quantitative","scale":{"domain":[-1.3,52],"nice":false,"zero":false},"axis":{"values":[0,2,4,8,12,16,20,24,32,40,52],"title":"Weeks"}}},
    "layer":[
     {"mark":"line","encoding":{"y":{"field":"pct","type":"quantitative","scale":{"domain":[-8.75,100],"nice":false},"axis":{"values":[0,20,40,60,80,100],"title":null}},"stroke":{"field":"group","type":"nominal","scale":{"domain":["UPA 15 mg","UPA 30 mg","PBO"],"range":["#00FFFF","#24504E","#858571"]},"legend":null}}},
     {"mark":"rule","encoding":{"y":{"field":"lo","type":"quantitative","scale":{"domain":[-8.75,100],"nice":false}},"y2":{"field":"hi"}}},
     {"mark":{"type":"tick","orient":"horizontal","size":18},"encoding":{"y":{"field":"lo","type":"quantitative","scale":{"domain":[-8.75,100],"nice":false}}}},
     {"mark":{"type":"tick","orient":"horizontal","size":18},"encoding":{"y":{"field":"hi","type":"quantitative","scale":{"domain":[-8.75,100],"nice":false}}}},
     {"mark":"point","encoding":{"y":{"field":"pct","type":"quantitative","scale":{"domain":[-8.75,100],"nice":false}},"color":{"field":"group","type":"nominal","scale":{"domain":["UPA 15 mg","UPA 30 mg","PBO"],"range":["#00FFFF","#24504E","#858571"]},"legend":null},"shape":{"field":"group","type":"nominal","scale":{"domain":["UPA 15 mg","UPA 30 mg","PBO"],"range":["M-0.68,-1H0.68V1H-0.68Z","M0,-0.9L0.74,0.7L-0.74,0.7Z","M-0.66,0A0.66,0.86,0,1,1,0.66,0A0.66,0.86,0,1,1,-0.66,0Z"]},"legend":null}}}]},
   {"width":1095,"height":126,"data":{"name":"nA3"},
    "encoding":{"x":{"field":"week","type":"quantitative","scale":{"domain":[-1.3,52],"nice":false,"zero":false},"axis":null},"y":{"field":"group","type":"nominal","scale":{"domain":["UPA 15 mg","UPA 30 mg","PBO"]},"axis":{"title":null,"domain":false,"ticks":false,"tickSize":0,"grid":false,"labelAlign":"left","labelPadding":139,"labelLimit":0,"labelFontSize":35}},"text":{"field":"n","type":"nominal"}},
    "layer":[{"transform":[{"filter":"datum.week == 2"}],"mark":{"type":"text","dx":-7.5}},{"transform":[{"filter":"datum.week != 2"}],"mark":{"type":"text","dx":7.5}}]}]}]}]},
{"columns":1,"spacing":18,"concat":[
 {"width":1,"height":65,"data":{"values":[{"letter":"B","label":"EASI 100"}]},"layer":[
  {"mark":{"type":"point","shape":"M-4.47,-0.65H-3.54V0.65H-4.47Z","size":10000,"filled":false,"stroke":"black","strokeWidth":2,"opacity":1},"encoding":{}},
  {"mark":{"type":"text","fontWeight":"bold","dx":-201},"encoding":{"text":{"field":"letter"}}},
  {"mark":{"type":"text","align":"left","dx":-158},"encoding":{"text":{"field":"label"}}}]},
 {"spacing":80,"hconcat":[
  {"spacing":9,"vconcat":[
   {"width":1084,"height":435,"data":{"name":"B1"},
    "encoding":{"x":{"field":"week","type":"quantitative","scale":{"domain":[-1.3,52],"nice":false,"zero":false},"axis":{"values":[0,2,4,8,12,16,20,24,32,40,52],"title":"Weeks"}}},
    "layer":[
     {"mark":"line","encoding":{"y":{"field":"pct","type":"quantitative","scale":{"domain":[-8.75,100],"nice":false},"axis":{"values":[0,20,40,60,80,100],"title":["Proportion of patients","who 0 achieved EASI","100, % (95% CI)"]}},"stroke":{"field":"group","type":"nominal","scale":{"domain":["UPA 15 mg","UPA 30 mg","PBO"],"range":["#00FFFF","#24504E","#858571"]},"legend":null}}},
     {"mark":"rule","encoding":{"y":{"field":"lo","type":"quantitative","scale":{"domain":[-8.75,100],"nice":false}},"y2":{"field":"hi"}}},
     {"mark":{"type":"tick","orient":"horizontal","size":18},"encoding":{"y":{"field":"lo","type":"quantitative","scale":{"domain":[-8.75,100],"nice":false}}}},
     {"mark":{"type":"tick","orient":"horizontal","size":18},"encoding":{"y":{"field":"hi","type":"quantitative","scale":{"domain":[-8.75,100],"nice":false}}}},
     {"mark":"point","encoding":{"y":{"field":"pct","type":"quantitative","scale":{"domain":[-8.75,100],"nice":false}},"color":{"field":"group","type":"nominal","scale":{"domain":["UPA 15 mg","UPA 30 mg","PBO"],"range":["#00FFFF","#24504E","#858571"]},"legend":null},"shape":{"field":"group","type":"nominal","scale":{"domain":["UPA 15 mg","UPA 30 mg","PBO"],"range":["M-0.68,-1H0.68V1H-0.68Z","M0,-0.9L0.74,0.7L-0.74,0.7Z","M-0.66,0A0.66,0.86,0,1,1,0.66,0A0.66,0.86,0,1,1,-0.66,0Z"]},"legend":null}}}]},
   {"width":1084,"height":126,"data":{"name":"nA1"},
    "encoding":{"x":{"field":"week","type":"quantitative","scale":{"domain":[-1.3,52],"nice":false,"zero":false},"axis":null},"y":{"field":"group","type":"nominal","scale":{"domain":["UPA 15 mg","UPA 30 mg","PBO"]},"axis":{"title":null,"domain":false,"ticks":false,"tickSize":0,"grid":false,"labelAlign":"left","labelPadding":139,"labelLimit":0,"labelFontSize":35}},"text":{"field":"n","type":"nominal"}},
    "layer":[{"transform":[{"filter":"datum.week == 2"}],"mark":{"type":"text","dx":-7.5}},{"transform":[{"filter":"datum.week != 2"}],"mark":{"type":"text","dx":7.5}}]}]},
  {"spacing":9,"vconcat":[
   {"width":1119,"height":435,"data":{"name":"B2"},
    "encoding":{"x":{"field":"week","type":"quantitative","scale":{"domain":[-1.3,52],"nice":false,"zero":false},"axis":{"values":[0,2,4,8,12,16,20,24,32,40,52],"title":"Weeks"}}},
    "layer":[
     {"mark":"line","encoding":{"y":{"field":"pct","type":"quantitative","scale":{"domain":[-8.75,100],"nice":false},"axis":{"values":[0,20,40,60,80,100],"title":null}},"stroke":{"field":"group","type":"nominal","scale":{"domain":["UPA 15 mg","UPA 30 mg","PBO"],"range":["#00FFFF","#24504E","#858571"]},"legend":null}}},
     {"mark":"rule","encoding":{"y":{"field":"lo","type":"quantitative","scale":{"domain":[-8.75,100],"nice":false}},"y2":{"field":"hi"}}},
     {"mark":{"type":"tick","orient":"horizontal","size":18},"encoding":{"y":{"field":"lo","type":"quantitative","scale":{"domain":[-8.75,100],"nice":false}}}},
     {"mark":{"type":"tick","orient":"horizontal","size":18},"encoding":{"y":{"field":"hi","type":"quantitative","scale":{"domain":[-8.75,100],"nice":false}}}},
     {"mark":"point","encoding":{"y":{"field":"pct","type":"quantitative","scale":{"domain":[-8.75,100],"nice":false}},"color":{"field":"group","type":"nominal","scale":{"domain":["UPA 15 mg","UPA 30 mg","PBO"],"range":["#00FFFF","#24504E","#858571"]},"legend":null},"shape":{"field":"group","type":"nominal","scale":{"domain":["UPA 15 mg","UPA 30 mg","PBO"],"range":["M-0.68,-1H0.68V1H-0.68Z","M0,-0.9L0.74,0.7L-0.74,0.7Z","M-0.66,0A0.66,0.86,0,1,1,0.66,0A0.66,0.86,0,1,1,-0.66,0Z"]},"legend":null}}}]},
   {"width":1119,"height":126,"data":{"name":"nA2"},
    "encoding":{"x":{"field":"week","type":"quantitative","scale":{"domain":[-1.3,52],"nice":false,"zero":false},"axis":null},"y":{"field":"group","type":"nominal","scale":{"domain":["UPA 15 mg","UPA 30 mg","PBO"]},"axis":{"title":null,"domain":false,"ticks":false,"tickSize":0,"grid":false,"labelAlign":"left","labelPadding":139,"labelLimit":0,"labelFontSize":35}},"text":{"field":"n","type":"nominal"}},
    "layer":[{"transform":[{"filter":"datum.week == 2"}],"mark":{"type":"text","dx":-7.5}},{"transform":[{"filter":"datum.week != 2"}],"mark":{"type":"text","dx":7.5}}]}]},
  {"spacing":9,"vconcat":[
   {"width":1095,"height":435,"data":{"name":"B3"},
    "encoding":{"x":{"field":"week","type":"quantitative","scale":{"domain":[-1.3,52],"nice":false,"zero":false},"axis":{"values":[0,2,4,8,12,16,20,24,32,40,52],"title":"Weeks"}}},
    "layer":[
     {"mark":"line","encoding":{"y":{"field":"pct","type":"quantitative","scale":{"domain":[-8.75,100],"nice":false},"axis":{"values":[0,20,40,60,80,100],"title":null}},"stroke":{"field":"group","type":"nominal","scale":{"domain":["UPA 15 mg","UPA 30 mg","PBO"],"range":["#00FFFF","#24504E","#858571"]},"legend":null}}},
     {"mark":"rule","encoding":{"y":{"field":"lo","type":"quantitative","scale":{"domain":[-8.75,100],"nice":false}},"y2":{"field":"hi"}}},
     {"mark":{"type":"tick","orient":"horizontal","size":18},"encoding":{"y":{"field":"lo","type":"quantitative","scale":{"domain":[-8.75,100],"nice":false}}}},
     {"mark":{"type":"tick","orient":"horizontal","size":18},"encoding":{"y":{"field":"hi","type":"quantitative","scale":{"domain":[-8.75,100],"nice":false}}}},
     {"mark":"point","encoding":{"y":{"field":"pct","type":"quantitative","scale":{"domain":[-8.75,100],"nice":false}},"color":{"field":"group","type":"nominal","scale":{"domain":["UPA 15 mg","UPA 30 mg","PBO"],"range":["#00FFFF","#24504E","#858571"]},"legend":null},"shape":{"field":"group","type":"nominal","scale":{"domain":["UPA 15 mg","UPA 30 mg","PBO"],"range":["M-0.68,-1H0.68V1H-0.68Z","M0,-0.9L0.74,0.7L-0.74,0.7Z","M-0.66,0A0.66,0.86,0,1,1,0.66,0A0.66,0.86,0,1,1,-0.66,0Z"]},"legend":null}}}]},
   {"width":1095,"height":126,"data":{"name":"nA3"},
    "encoding":{"x":{"field":"week","type":"quantitative","scale":{"domain":[-1.3,52],"nice":false,"zero":false},"axis":null},"y":{"field":"group","type":"nominal","scale":{"domain":["UPA 15 mg","UPA 30 mg","PBO"]},"axis":{"title":null,"domain":false,"ticks":false,"tickSize":0,"grid":false,"labelAlign":"left","labelPadding":139,"labelLimit":0,"labelFontSize":35}},"text":{"field":"n","type":"nominal"}},
    "layer":[{"transform":[{"filter":"datum.week == 2"}],"mark":{"type":"text","dx":-7.5}},{"transform":[{"filter":"datum.week != 2"}],"mark":{"type":"text","dx":7.5}}]}]}]}]},
{"columns":1,"spacing":18,"concat":[
 {"width":1,"height":65,"data":{"values":[{"letter":"C","label":"vIGA-AD 0 with ≥2 reduction from baseline"}]},"layer":[
  {"mark":{"type":"point","shape":"M-4.47,-0.65H-3.54V0.65H-4.47Z","size":10000,"filled":false,"stroke":"black","strokeWidth":2,"opacity":1},"encoding":{}},
  {"mark":{"type":"text","fontWeight":"bold","dx":-201},"encoding":{"text":{"field":"letter"}}},
  {"mark":{"type":"text","align":"left","dx":-158},"encoding":{"text":{"field":"label"}}}]},
 {"spacing":80,"hconcat":[
  {"spacing":9,"vconcat":[
   {"width":1084,"height":435,"data":{"name":"C1"},
    "encoding":{"x":{"field":"week","type":"quantitative","scale":{"domain":[-1.3,52],"nice":false,"zero":false},"axis":{"values":[0,2,4,8,12,16,20,24,32,40,52],"title":"Weeks"}}},
    "layer":[
     {"mark":"line","encoding":{"y":{"field":"pct","type":"quantitative","scale":{"domain":[-8.75,100],"nice":false},"axis":{"values":[0,20,40,60,80,100],"title":["Proportion of patients","who achieved vIGA-AD 0","with ≥2 reduction from","baseline, % (95% CI)"]}},"stroke":{"field":"group","type":"nominal","scale":{"domain":["UPA 15 mg","UPA 30 mg","PBO"],"range":["#00FFFF","#24504E","#858571"]},"legend":null}}},
     {"mark":"rule","encoding":{"y":{"field":"lo","type":"quantitative","scale":{"domain":[-8.75,100],"nice":false}},"y2":{"field":"hi"}}},
     {"mark":{"type":"tick","orient":"horizontal","size":18},"encoding":{"y":{"field":"lo","type":"quantitative","scale":{"domain":[-8.75,100],"nice":false}}}},
     {"mark":{"type":"tick","orient":"horizontal","size":18},"encoding":{"y":{"field":"hi","type":"quantitative","scale":{"domain":[-8.75,100],"nice":false}}}},
     {"mark":"point","encoding":{"y":{"field":"pct","type":"quantitative","scale":{"domain":[-8.75,100],"nice":false}},"color":{"field":"group","type":"nominal","scale":{"domain":["UPA 15 mg","UPA 30 mg","PBO"],"range":["#00FFFF","#24504E","#858571"]},"legend":null},"shape":{"field":"group","type":"nominal","scale":{"domain":["UPA 15 mg","UPA 30 mg","PBO"],"range":["M-0.68,-1H0.68V1H-0.68Z","M0,-0.9L0.74,0.7L-0.74,0.7Z","M-0.66,0A0.66,0.86,0,1,1,0.66,0A0.66,0.86,0,1,1,-0.66,0Z"]},"legend":null}}}]},
   {"width":1084,"height":126,"data":{"name":"nC1"},
    "encoding":{"x":{"field":"week","type":"quantitative","scale":{"domain":[-1.3,52],"nice":false,"zero":false},"axis":null},"y":{"field":"group","type":"nominal","scale":{"domain":["UPA 15 mg","UPA 30 mg","PBO"]},"axis":{"title":null,"domain":false,"ticks":false,"tickSize":0,"grid":false,"labelAlign":"left","labelPadding":139,"labelLimit":0,"labelFontSize":35}},"text":{"field":"n","type":"nominal"}},
    "layer":[{"transform":[{"filter":"datum.week == 2"}],"mark":{"type":"text","dx":-7.5}},{"transform":[{"filter":"datum.week != 2"}],"mark":{"type":"text","dx":7.5}}]}]},
  {"spacing":9,"vconcat":[
   {"width":1119,"height":435,"data":{"name":"C2"},
    "encoding":{"x":{"field":"week","type":"quantitative","scale":{"domain":[-1.3,52],"nice":false,"zero":false},"axis":{"values":[0,2,4,8,12,16,20,24,32,40,52],"title":"Weeks"}}},
    "layer":[
     {"mark":"line","encoding":{"y":{"field":"pct","type":"quantitative","scale":{"domain":[-8.75,100],"nice":false},"axis":{"values":[0,20,40,60,80,100],"title":null}},"stroke":{"field":"group","type":"nominal","scale":{"domain":["UPA 15 mg","UPA 30 mg","PBO"],"range":["#00FFFF","#24504E","#858571"]},"legend":null}}},
     {"mark":"rule","encoding":{"y":{"field":"lo","type":"quantitative","scale":{"domain":[-8.75,100],"nice":false}},"y2":{"field":"hi"}}},
     {"mark":{"type":"tick","orient":"horizontal","size":18},"encoding":{"y":{"field":"lo","type":"quantitative","scale":{"domain":[-8.75,100],"nice":false}}}},
     {"mark":{"type":"tick","orient":"horizontal","size":18},"encoding":{"y":{"field":"hi","type":"quantitative","scale":{"domain":[-8.75,100],"nice":false}}}},
     {"mark":"point","encoding":{"y":{"field":"pct","type":"quantitative","scale":{"domain":[-8.75,100],"nice":false}},"color":{"field":"group","type":"nominal","scale":{"domain":["UPA 15 mg","UPA 30 mg","PBO"],"range":["#00FFFF","#24504E","#858571"]},"legend":null},"shape":{"field":"group","type":"nominal","scale":{"domain":["UPA 15 mg","UPA 30 mg","PBO"],"range":["M-0.68,-1H0.68V1H-0.68Z","M0,-0.9L0.74,0.7L-0.74,0.7Z","M-0.66,0A0.66,0.86,0,1,1,0.66,0A0.66,0.86,0,1,1,-0.66,0Z"]},"legend":null}}}]},
   {"width":1119,"height":126,"data":{"name":"nA2"},
    "encoding":{"x":{"field":"week","type":"quantitative","scale":{"domain":[-1.3,52],"nice":false,"zero":false},"axis":null},"y":{"field":"group","type":"nominal","scale":{"domain":["UPA 15 mg","UPA 30 mg","PBO"]},"axis":{"title":null,"domain":false,"ticks":false,"tickSize":0,"grid":false,"labelAlign":"left","labelPadding":139,"labelLimit":0,"labelFontSize":35}},"text":{"field":"n","type":"nominal"}},
    "layer":[{"transform":[{"filter":"datum.week == 2"}],"mark":{"type":"text","dx":-7.5}},{"transform":[{"filter":"datum.week != 2"}],"mark":{"type":"text","dx":7.5}}]}]},
  {"spacing":9,"vconcat":[
   {"width":1095,"height":435,"data":{"name":"C3"},
    "encoding":{"x":{"field":"week","type":"quantitative","scale":{"domain":[-1.3,52],"nice":false,"zero":false},"axis":{"values":[0,2,4,8,12,16,20,24,32,40,52],"title":"Weeks"}}},
    "layer":[
     {"mark":"line","encoding":{"y":{"field":"pct","type":"quantitative","scale":{"domain":[-8.75,100],"nice":false},"axis":{"values":[0,20,40,60,80,100],"title":null}},"stroke":{"field":"group","type":"nominal","scale":{"domain":["UPA 15 mg","UPA 30 mg","PBO"],"range":["#00FFFF","#24504E","#858571"]},"legend":null}}},
     {"mark":"rule","encoding":{"y":{"field":"lo","type":"quantitative","scale":{"domain":[-8.75,100],"nice":false}},"y2":{"field":"hi"}}},
     {"mark":{"type":"tick","orient":"horizontal","size":18},"encoding":{"y":{"field":"lo","type":"quantitative","scale":{"domain":[-8.75,100],"nice":false}}}},
     {"mark":{"type":"tick","orient":"horizontal","size":18},"encoding":{"y":{"field":"hi","type":"quantitative","scale":{"domain":[-8.75,100],"nice":false}}}},
     {"mark":"point","encoding":{"y":{"field":"pct","type":"quantitative","scale":{"domain":[-8.75,100],"nice":false}},"color":{"field":"group","type":"nominal","scale":{"domain":["UPA 15 mg","UPA 30 mg","PBO"],"range":["#00FFFF","#24504E","#858571"]},"legend":null},"shape":{"field":"group","type":"nominal","scale":{"domain":["UPA 15 mg","UPA 30 mg","PBO"],"range":["M-0.68,-1H0.68V1H-0.68Z","M0,-0.9L0.74,0.7L-0.74,0.7Z","M-0.66,0A0.66,0.86,0,1,1,0.66,0A0.66,0.86,0,1,1,-0.66,0Z"]},"legend":null}}}]},
   {"width":1095,"height":126,"data":{"name":"nC3"},
    "encoding":{"x":{"field":"week","type":"quantitative","scale":{"domain":[-1.3,52],"nice":false,"zero":false},"axis":null},"y":{"field":"group","type":"nominal","scale":{"domain":["UPA 15 mg","UPA 30 mg","PBO"]},"axis":{"title":null,"domain":false,"ticks":false,"tickSize":0,"grid":false,"labelAlign":"left","labelPadding":139,"labelLimit":0,"labelFontSize":35}},"text":{"field":"n","type":"nominal"}},
    "layer":[{"transform":[{"filter":"datum.week == 2"}],"mark":{"type":"text","dx":-7.5}},{"transform":[{"filter":"datum.week != 2"}],"mark":{"type":"text","dx":7.5}}]}]}]}]},
{"columns":1,"spacing":18,"concat":[
 {"width":1,"height":65,"data":{"values":[{"letter":"D","label":"Worst pruritus NRS of 0 or 1"}]},"layer":[
  {"mark":{"type":"point","shape":"M-4.47,-0.65H-3.54V0.65H-4.47Z","size":10000,"filled":false,"stroke":"black","strokeWidth":2,"opacity":1},"encoding":{}},
  {"mark":{"type":"text","fontWeight":"bold","dx":-201},"encoding":{"text":{"field":"letter"}}},
  {"mark":{"type":"text","align":"left","dx":-158},"encoding":{"text":{"field":"label"}}}]},
 {"spacing":80,"hconcat":[
  {"spacing":9,"vconcat":[
   {"width":1084,"height":435,"data":{"name":"D1"},
    "encoding":{"x":{"field":"week","type":"quantitative","scale":{"domain":[-1.3,52],"nice":false,"zero":false},"axis":{"values":[0,2,4,8,12,16,20,24,32,40,52],"title":"Weeks"}}},
    "layer":[
     {"mark":"line","encoding":{"y":{"field":"pct","type":"quantitative","scale":{"domain":[-8.75,100],"nice":false},"axis":{"values":[0,20,40,60,80,100],"title":["Proportion of patients","who achieved","WP-NRS 0/1,","% (95% CI)"]}},"stroke":{"field":"group","type":"nominal","scale":{"domain":["UPA 15 mg","UPA 30 mg","PBO"],"range":["#00FFFF","#24504E","#858571"]},"legend":null}}},
     {"mark":"rule","encoding":{"y":{"field":"lo","type":"quantitative","scale":{"domain":[-8.75,100],"nice":false}},"y2":{"field":"hi"}}},
     {"mark":{"type":"tick","orient":"horizontal","size":18},"encoding":{"y":{"field":"lo","type":"quantitative","scale":{"domain":[-8.75,100],"nice":false}}}},
     {"mark":{"type":"tick","orient":"horizontal","size":18},"encoding":{"y":{"field":"hi","type":"quantitative","scale":{"domain":[-8.75,100],"nice":false}}}},
     {"mark":"point","encoding":{"y":{"field":"pct","type":"quantitative","scale":{"domain":[-8.75,100],"nice":false}},"color":{"field":"group","type":"nominal","scale":{"domain":["UPA 15 mg","UPA 30 mg","PBO"],"range":["#00FFFF","#24504E","#858571"]},"legend":null},"shape":{"field":"group","type":"nominal","scale":{"domain":["UPA 15 mg","UPA 30 mg","PBO"],"range":["M-0.68,-1H0.68V1H-0.68Z","M0,-0.9L0.74,0.7L-0.74,0.7Z","M-0.66,0A0.66,0.86,0,1,1,0.66,0A0.66,0.86,0,1,1,-0.66,0Z"]},"legend":null}}}]},
   {"width":1084,"height":126,"data":{"name":"nD1"},
    "encoding":{"x":{"field":"week","type":"quantitative","scale":{"domain":[-1.3,52],"nice":false,"zero":false},"axis":null},"y":{"field":"group","type":"nominal","scale":{"domain":["UPA 15 mg","UPA 30 mg","PBO"]},"axis":{"title":null,"domain":false,"ticks":false,"tickSize":0,"grid":false,"labelAlign":"left","labelPadding":139,"labelLimit":0,"labelFontSize":35}},"text":{"field":"n","type":"nominal"}},
    "layer":[{"transform":[{"filter":"datum.week == 2"}],"mark":{"type":"text","dx":-7.5}},{"transform":[{"filter":"datum.week != 2"}],"mark":{"type":"text","dx":7.5}}]}]},
  {"spacing":9,"vconcat":[
   {"width":1119,"height":435,"data":{"name":"D2"},
    "encoding":{"x":{"field":"week","type":"quantitative","scale":{"domain":[-1.3,52],"nice":false,"zero":false},"axis":{"values":[0,2,4,8,12,16,20,24,32,40,52],"title":"Weeks"}}},
    "layer":[
     {"mark":"line","encoding":{"y":{"field":"pct","type":"quantitative","scale":{"domain":[-8.75,100],"nice":false},"axis":{"values":[0,20,40,60,80,100],"title":null}},"stroke":{"field":"group","type":"nominal","scale":{"domain":["UPA 15 mg","UPA 30 mg","PBO"],"range":["#00FFFF","#24504E","#858571"]},"legend":null}}},
     {"mark":"rule","encoding":{"y":{"field":"lo","type":"quantitative","scale":{"domain":[-8.75,100],"nice":false}},"y2":{"field":"hi"}}},
     {"mark":{"type":"tick","orient":"horizontal","size":18},"encoding":{"y":{"field":"lo","type":"quantitative","scale":{"domain":[-8.75,100],"nice":false}}}},
     {"mark":{"type":"tick","orient":"horizontal","size":18},"encoding":{"y":{"field":"hi","type":"quantitative","scale":{"domain":[-8.75,100],"nice":false}}}},
     {"mark":"point","encoding":{"y":{"field":"pct","type":"quantitative","scale":{"domain":[-8.75,100],"nice":false}},"color":{"field":"group","type":"nominal","scale":{"domain":["UPA 15 mg","UPA 30 mg","PBO"],"range":["#00FFFF","#24504E","#858571"]},"legend":null},"shape":{"field":"group","type":"nominal","scale":{"domain":["UPA 15 mg","UPA 30 mg","PBO"],"range":["M-0.68,-1H0.68V1H-0.68Z","M0,-0.9L0.74,0.7L-0.74,0.7Z","M-0.66,0A0.66,0.86,0,1,1,0.66,0A0.66,0.86,0,1,1,-0.66,0Z"]},"legend":null}}}]},
   {"width":1119,"height":126,"data":{"name":"nD2"},
    "encoding":{"x":{"field":"week","type":"quantitative","scale":{"domain":[-1.3,52],"nice":false,"zero":false},"axis":null},"y":{"field":"group","type":"nominal","scale":{"domain":["UPA 15 mg","UPA 30 mg","PBO"]},"axis":{"title":null,"domain":false,"ticks":false,"tickSize":0,"grid":false,"labelAlign":"left","labelPadding":139,"labelLimit":0,"labelFontSize":35}},"text":{"field":"n","type":"nominal"}},
    "layer":[{"transform":[{"filter":"datum.week == 2"}],"mark":{"type":"text","dx":-7.5}},{"transform":[{"filter":"datum.week != 2"}],"mark":{"type":"text","dx":7.5}}]}]},
  {"spacing":9,"vconcat":[
   {"width":1095,"height":435,"data":{"name":"D3"},
    "encoding":{"x":{"field":"week","type":"quantitative","scale":{"domain":[-1.3,52],"nice":false,"zero":false},"axis":{"values":[0,2,4,8,12,16,20,24,32,40,52],"title":"Weeks"}}},
    "layer":[
     {"mark":"line","encoding":{"y":{"field":"pct","type":"quantitative","scale":{"domain":[-8.75,100],"nice":false},"axis":{"values":[0,20,40,60,80,100],"title":null}},"stroke":{"field":"group","type":"nominal","scale":{"domain":["UPA 15 mg","UPA 30 mg","PBO"],"range":["#00FFFF","#24504E","#858571"]},"legend":null}}},
     {"mark":"rule","encoding":{"y":{"field":"lo","type":"quantitative","scale":{"domain":[-8.75,100],"nice":false}},"y2":{"field":"hi"}}},
     {"mark":{"type":"tick","orient":"horizontal","size":18},"encoding":{"y":{"field":"lo","type":"quantitative","scale":{"domain":[-8.75,100],"nice":false}}}},
     {"mark":{"type":"tick","orient":"horizontal","size":18},"encoding":{"y":{"field":"hi","type":"quantitative","scale":{"domain":[-8.75,100],"nice":false}}}},
     {"mark":"point","encoding":{"y":{"field":"pct","type":"quantitative","scale":{"domain":[-8.75,100],"nice":false}},"color":{"field":"group","type":"nominal","scale":{"domain":["UPA 15 mg","UPA 30 mg","PBO"],"range":["#00FFFF","#24504E","#858571"]},"legend":null},"shape":{"field":"group","type":"nominal","scale":{"domain":["UPA 15 mg","UPA 30 mg","PBO"],"range":["M-0.68,-1H0.68V1H-0.68Z","M0,-0.9L0.74,0.7L-0.74,0.7Z","M-0.66,0A0.66,0.86,0,1,1,0.66,0A0.66,0.86,0,1,1,-0.66,0Z"]},"legend":null}}}]},
   {"width":1095,"height":126,"data":{"name":"nD3"},
    "encoding":{"x":{"field":"week","type":"quantitative","scale":{"domain":[-1.3,52],"nice":false,"zero":false},"axis":null},"y":{"field":"group","type":"nominal","scale":{"domain":["UPA 15 mg","UPA 30 mg","PBO"]},"axis":{"title":null,"domain":false,"ticks":false,"tickSize":0,"grid":false,"labelAlign":"left","labelPadding":139,"labelLimit":0,"labelFontSize":35}},"text":{"field":"n","type":"nominal"}},
    "layer":[{"transform":[{"filter":"datum.week == 2"}],"mark":{"type":"text","dx":-7.5}},{"transform":[{"filter":"datum.week != 2"}],"mark":{"type":"text","dx":7.5}}]}]}]}]}
],
"config":{
 "view":{"stroke":null},
 "font":"Roboto Condensed, Open Sans Condensed, Noto Sans Condensed, Liberation Sans Narrow, Liberation Sans, sans-serif",
 "axis":{"labelFont":"Roboto Condensed, Open Sans Condensed, Noto Sans Condensed, Liberation Sans Narrow, Liberation Sans, sans-serif","labelFontSize":36,"labelColor":"black","titleFont":"Roboto Condensed, Open Sans Condensed, Noto Sans Condensed, Liberation Sans Narrow, Liberation Sans, sans-serif","titleFontSize":37,"titleFontWeight":"normal","titleColor":"black","domainColor":"black","tickColor":"black"},
 "axisX":{"grid":false,"tickSize":16,"tickWidth":1.5,"domainWidth":3,"labelPadding":7,"titlePadding":8,"labelFlush":false},
 "axisY":{"gridColor":"#d9d9d9","gridWidth":4.5,"tickSize":13,"tickWidth":2,"domainWidth":1.5,"labelPadding":4,"titleFont":"DejaVu Sans","titleFontSize":33,"titleLineHeight":35,"titlePadding":20},
 "line":{"strokeWidth":4.5},
 "point":{"filled":true,"size":900,"opacity":1},
 "tick":{"thickness":2,"color":"black"},
 "rule":{"strokeWidth":1.5,"color":"black"},
 "text":{"font":"Roboto Condensed, Open Sans Condensed, Noto Sans Condensed, Liberation Sans Narrow, Liberation Sans, sans-serif","fontSize":36,"color":"black"},
 "title":{"font":"Roboto Condensed, Open Sans Condensed, Noto Sans Condensed, Liberation Sans Narrow, Liberation Sans, sans-serif","fontSize":37,"fontWeight":"bold","color":"black","offset":0,"frame":"group"},
 "legend":{"strokeColor":"black","strokeWidth":2,"padding":13,"rowPadding":16,"symbolSize":900,"labelFont":"Roboto Condensed, Open Sans Condensed, Noto Sans Condensed, Liberation Sans Narrow, Liberation Sans, sans-serif","labelFontSize":35,"labelColor":"black","labelLimit":0,"fillColor":"white","symbolStrokeWidth":0,"labelOffset":8}
}
}
